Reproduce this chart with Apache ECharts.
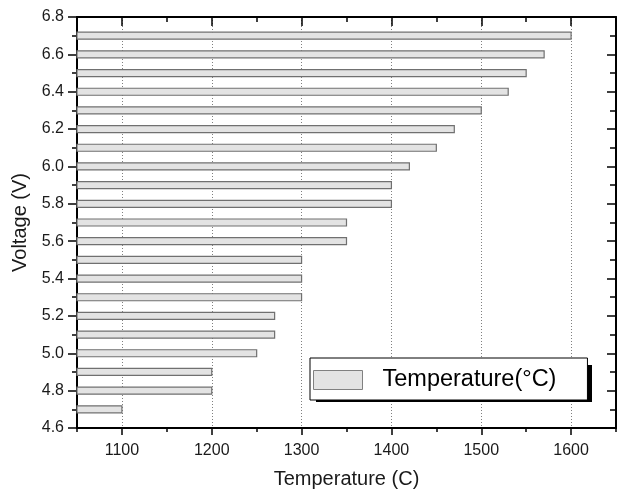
<!DOCTYPE html>
<html>
<head>
<meta charset="utf-8">
<script src="https://cdn.jsdelivr.net/npm/echarts@6/dist/echarts.min.js"></script>
<style>
html, body { margin: 0; padding: 0; background: #fff; }
#chart { width: 624px; height: 490px; }
</style>
</head>
<body>
<div id="chart"></div>
<script>
// voltage levels (y) and the temperature reached at each one (x)
var voltages = [4.7, 4.8, 4.9, 5.0, 5.1, 5.2, 5.3, 5.4, 5.5, 5.6, 5.7, 5.8, 5.9, 6.0, 6.1, 6.2, 6.3, 6.4, 6.5, 6.6, 6.7];
var temps = [1100, 1200, 1200, 1250, 1270, 1270, 1300, 1300, 1300, 1350, 1350, 1400, 1400, 1420, 1450, 1470, 1500, 1530, 1550, 1570, 1600];
var majorTemps = [1100, 1200, 1300, 1400, 1500, 1600];
var minorTemps = [1050, 1150, 1250, 1350, 1450, 1550, 1650];
var xMin = 1050, xMax = 1650;
var yMin = 4.6, yMax = 6.8;

var FONT = 'Liberation Sans, Arial, sans-serif';
var INK = '#1a1a1a';

var data = [];
for (var i = 0; i < voltages.length; i++) {
    data.push([temps[i], voltages[i]]);
}

var dom = document.getElementById('chart');
var myChart = echarts.init(dom);

var frameLine = { show: true, lineStyle: { color: '#000', width: 2 } };

var option = {
    animation: false,
    grid: { left: 77, right: 8, top: 17, bottom: 62, containLabel: false, outerBoundsMode: 'none' },
    // black drop shadow behind the legend box
    graphic: [{
        type: 'rect', left: 316, top: 365, z: 3,
        shape: { width: 276, height: 37 },
        style: { fill: '#000' }
    }],
    legend: {
        left: 310,
        top: 358,
        z: 5,
        orient: 'horizontal',
        padding: [10, 31, 8, 3],
        itemWidth: 49,
        itemHeight: 19,
        backgroundColor: '#fff',
        borderColor: '#000',
        borderWidth: 1,
        data: [{ name: 'Temperature(°C)', icon: 'rect' }],
        itemStyle: { color: '#e3e3e3', borderColor: '#808080', borderWidth: 1 },
        textStyle: {
            fontFamily: FONT, fontSize: 23.5, color: '#000',
            lineHeight: 19,
            padding: [0, 0, 0, 15]
        }
    },
    xAxis: [
        {
            type: 'value', position: 'bottom', min: xMin, max: xMax,
            name: 'Temperature (C)', nameLocation: 'middle', nameGap: 41,
            nameTextStyle: { fontFamily: FONT, fontSize: 20, color: INK },
            axisLine: frameLine,
            axisTick: { show: true, inside: false, length: 7, customValues: majorTemps, lineStyle: { color: '#000', width: 1.5 } },
            axisLabel: {
                customValues: majorTemps, fontFamily: FONT, fontSize: 16, color: INK, margin: 15,
                formatter: function (v) { return String(v); }
            },
            splitLine: { show: true, lineStyle: { color: '#808080', type: [1, 2], width: 1 } }
        },
        {
            type: 'value', position: 'bottom', min: xMin, max: xMax,
            axisLine: { show: false },
            axisTick: { show: true, inside: false, length: 4, customValues: minorTemps, lineStyle: { color: '#000', width: 1.5 } },
            axisLabel: { show: false },
            splitLine: { show: false }
        },
        {
            type: 'value', position: 'top', min: xMin, max: xMax,
            axisLine: frameLine,
            axisTick: { show: true, inside: true, length: 9, customValues: majorTemps, lineStyle: { color: '#000', width: 1.5 } },
            axisLabel: { show: false },
            splitLine: { show: false }
        },
        {
            type: 'value', position: 'top', min: xMin, max: xMax,
            axisLine: { show: false },
            axisTick: { show: true, inside: true, length: 5, customValues: minorTemps, lineStyle: { color: '#000', width: 1.5 } },
            axisLabel: { show: false },
            splitLine: { show: false }
        }
    ],
    yAxis: [
        {
            type: 'value', position: 'left', min: yMin, max: yMax, interval: 0.2,
            name: 'Voltage (V)', nameLocation: 'middle', nameGap: 43,
            nameTextStyle: { fontFamily: FONT, fontSize: 20, color: INK },
            axisLine: frameLine,
            axisTick: { show: true, inside: false, length: 9, lineStyle: { color: '#000', width: 1.5 } },
            minorTick: { show: true, splitNumber: 2, length: 5, lineStyle: { color: '#000', width: 1.5 } },
            axisLabel: {
                fontFamily: FONT, fontSize: 16, color: INK, margin: 13,
                formatter: function (v) { return v.toFixed(1); }
            },
            splitLine: { show: false }
        },
        {
            type: 'value', position: 'right', min: yMin, max: yMax, interval: 0.2,
            axisLine: frameLine,
            axisTick: { show: true, inside: true, length: 9, lineStyle: { color: '#000', width: 1.5 } },
            minorTick: { show: true, splitNumber: 2, length: 6, lineStyle: { color: '#000', width: 1.5 } },
            axisLabel: { show: false },
            splitLine: { show: false }
        }
    ],
    series: [
        {
            name: 'Temperature(°C)',
            type: 'custom',
            xAxisIndex: 0,
            yAxisIndex: 0,
            encode: { x: 0, y: 1 },
            itemStyle: { color: '#e3e3e3', borderColor: '#808080', borderWidth: 1 },
            renderItem: function (params, api) {
                var start = api.coord([xMin, api.value(1)]);
                var end = api.coord([api.value(0), api.value(1)]);
                var h = 7;
                return {
                    type: 'rect',
                    shape: { x: start[0], y: start[1] - h / 2, width: end[0] - start[0], height: h },
                    style: { fill: '#e3e3e3', stroke: '#707070', lineWidth: 1.2 }
                };
            },
            data: data
        }
    ]
};

if (option && typeof option === "object") {
    myChart.setOption(option, true);
}
</script>
</body>
</html>
